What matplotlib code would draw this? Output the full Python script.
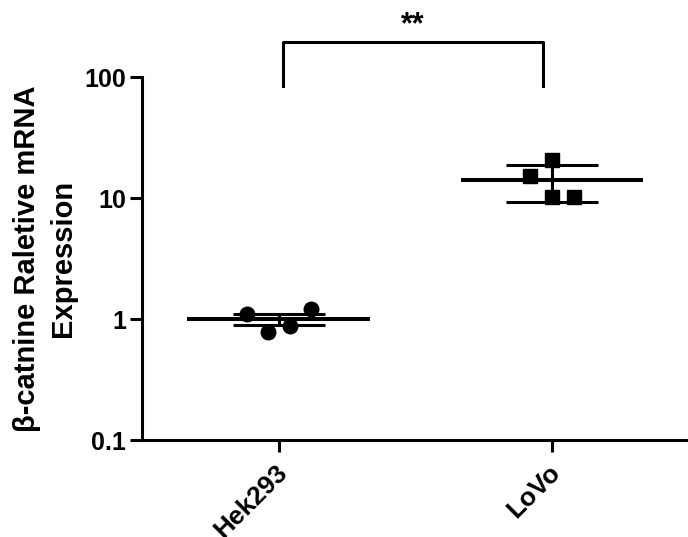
import numpy as np
import matplotlib
matplotlib.use('Agg')
import matplotlib.pyplot as plt
from matplotlib.transforms import ScaledTranslation

# --- Data ---
groups = ['Hek293', 'LoVo']
hek_values = [1.11, 0.78, 0.88, 1.22]
lovo_values = [20.5, 15.2, 10.2, 10.2]
means = [1.0, 14.0]
errors = [0.10, 4.8]
y_ticks = [0.1, 1, 10, 100]
y_ticklabels = ['0.1', '1', '10', '100']
signif = '**'

# horizontal scatter of the dots inside each column
hek_offsets = [-0.117, -0.04, 0.04, 0.12]
lovo_offsets = [0.0, -0.08, 0.0, 0.08]

plt.rcParams['font.family'] = ['Liberation Sans', 'DejaVu Sans']
plt.rcParams['font.weight'] = 'bold'

fig = plt.figure(figsize=(6.88, 5.37), dpi=100)
ax = fig.add_axes([0.2064, 0.1806, 0.7906, 0.676])

x = np.arange(len(groups))

# points
ax.plot(x[0] + np.array(hek_offsets), hek_values, 'o', color='black',
        markersize=10.5, clip_on=False, zorder=3)
ax.plot(x[1] + np.array(lovo_offsets), lovo_values, 's', color='black',
        markersize=9.8, clip_on=False, zorder=3)

# mean line + error bars
for xi, m, e in zip(x, means, errors):
    ax.hlines(m, xi - 0.334, xi + 0.334, color='black', linewidth=2.9, zorder=2)
    ax.errorbar(xi, m, yerr=e, fmt='none', ecolor='black', elinewidth=2.2,
                capsize=33, capthick=2.2, zorder=2)

ax.set_yscale('log')
ax.set_ylim(0.1, 100)
ax.set_xlim(-0.5, 1.49)
ax.set_yticks(y_ticks)
ax.set_yticklabels(y_ticklabels)
ax.yaxis.set_minor_locator(matplotlib.ticker.NullLocator())
ax.set_xticks(x)
ax.set_xticklabels(groups, rotation=45, ha='right', rotation_mode='anchor')

ax.tick_params(axis='both', width=2.2, length=8.6)
ax.tick_params(axis='y', pad=3, labelsize=18)
ax.tick_params(axis='x', pad=6, labelsize=19)
shift = ScaledTranslation(-4 / 100, 0, fig.dpi_scale_trans)
for lab in ax.get_xticklabels():
    lab.set_transform(lab.get_transform() + shift)

for s in ['top', 'right']:
    ax.spines[s].set_visible(False)
for s in ['left', 'bottom']:
    ax.spines[s].set_linewidth(2.2)

ax.set_ylabel('β-catnine Raletive mRNA\nExpression', fontsize=21,
              fontweight='bold', labelpad=5, linespacing=1.35)

# significance bracket
bx0, bx1 = 0.015, 0.967
ytop, ybot = 194, 84
ax.plot([bx0, bx0, bx1, bx1], [ybot, ytop, ytop, ybot], color='black',
        linewidth=2.2, clip_on=False)
ax.text((bx0 + bx1) / 2, 200, signif, ha='center', va='bottom',
        fontsize=22, fontweight='bold')

fig.savefig('out.png', dpi=100)
